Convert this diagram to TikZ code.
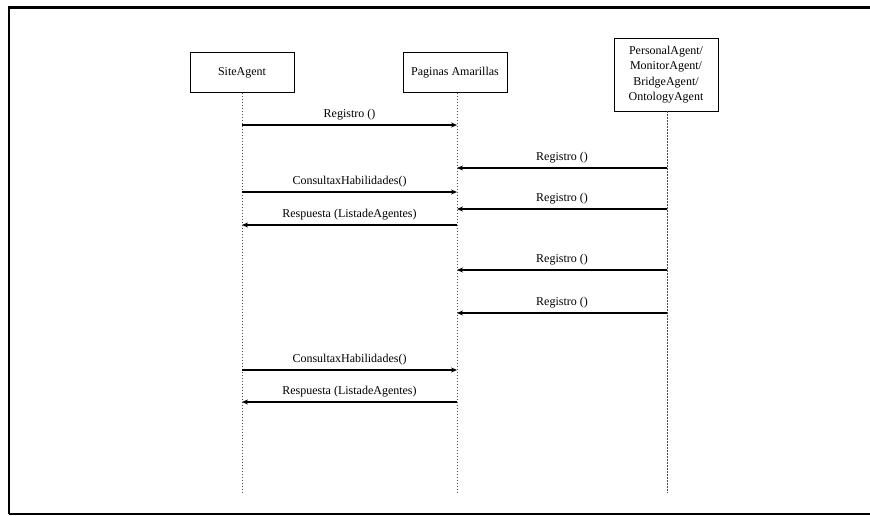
\documentclass[tikz,border=0pt]{standalone}
\usepackage{fontspec}
\setmainfont{Liberation Serif}
\usetikzlibrary{arrows.meta}
\begin{document}
\begin{tikzpicture}[x=1pt,y=-1pt,
  actor/.style={draw=black,line width=0.9pt,minimum width=104pt,minimum height=40pt,
    font=\fontsize{12}{15.5}\selectfont,align=center,inner sep=2pt},
  lifeline/.style={draw=black!70,line width=0.7pt,dash pattern=on 1.2pt off 1.8pt},
  msg/.style={draw=black,line width=1.3pt,-{Stealth[length=6pt,width=5pt]}},
  lbl/.style={font=\fontsize{12}{13}\selectfont,above=1pt,midway}]
\useasboundingbox (0,0) rectangle (870,516);
% outer frame (right side runs past the page edge)
\draw[line width=2.2pt] (9,514) -- (9,7.5) -- (880,7.5);
\draw[line width=2pt] (9,514) -- (880,514);

% participants
\node[actor] (site) at (242,72.5) {SiteAgent};
\node[actor] (pag) at (455,72.5) {Paginas Amarillas};
\node[actor,minimum height=73pt] (pers) at (666,74.5) {PersonalAgent/\\MonitorAgent/\\BridgeAgent/\\OntologyAgent};

% lifeline ends
\coordinate (siteE) at (242,493);
\coordinate (pagE) at (457,493);
\coordinate (persE) at (667,493);
\draw[lifeline] (site.south) -- (siteE);
\draw[lifeline] (pag.south -| pagE) -- (pagE);
\draw[lifeline] (pers.south -| persE) -- (persE);

% message anchors on the lifelines
\foreach \n/\y in {1/125,2/168,3/192,4/209,5/225,6/270,7/313,8/370,9/402}{
  \coordinate (s\n) at (242,\y);
  \coordinate (p\n) at (457,\y);
  \coordinate (q\n) at (667,\y);
}

% messages
\draw[msg] (s1) -- node[lbl]{Registro ()} (p1);
\draw[msg] (q2) -- node[lbl]{Registro ()} (p2);
\draw[msg] (s3) -- node[lbl]{ConsultaxHabilidades()} (p3);
\draw[msg] (q4) -- node[lbl]{Registro ()} (p4);
\draw[msg] (p5) -- node[lbl]{Respuesta (ListadeAgentes)} (s5);
\draw[msg] (q6) -- node[lbl]{Registro ()} (p6);
\draw[msg] (q7) -- node[lbl]{Registro ()} (p7);
\draw[msg] (s8) -- node[lbl]{ConsultaxHabilidades()} (p8);
\draw[msg] (p9) -- node[lbl]{Respuesta (ListadeAgentes)} (s9);
\end{tikzpicture}
\end{document}
